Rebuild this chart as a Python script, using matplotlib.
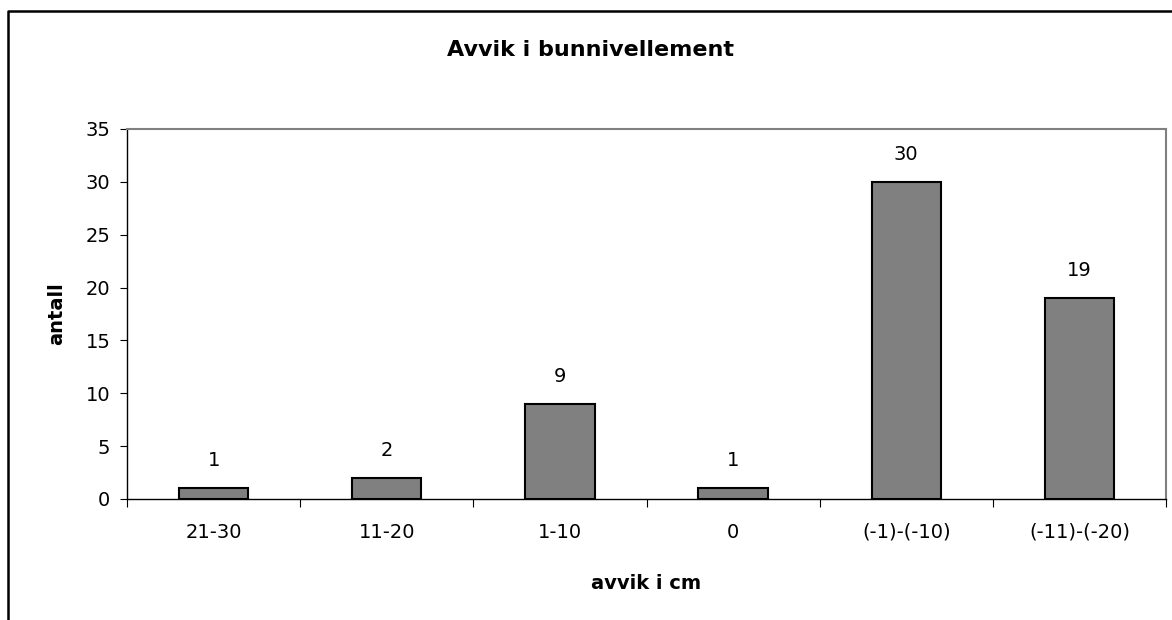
import numpy as np
import matplotlib.pyplot as plt
from matplotlib.lines import Line2D

plt.rcParams['font.family'] = ['DejaVu Sans']

categories = ['21-30', '11-20', '1-10', '0', '(-1)-(-10)', '(-11)-(-20)']
counts = [1, 2, 9, 1, 30, 19]

fig = plt.figure(figsize=(11.72, 6.2), dpi=100)
ax = fig.add_axes([127/1172, 1 - 499/620, (1166-127)/1172, (499-129)/620])

x = np.arange(len(categories))
ax.bar(x, counts, width=0.4, color='#808080', edgecolor='black', linewidth=1.5)
for xi, v in zip(x, counts):
    ax.annotate(str(v), (xi, v), xytext=(0, 13), textcoords='offset points',
                ha='center', va='bottom', fontsize=14)

ax.set_xlim(-0.5, len(categories) - 0.5)
ax.set_ylim(0, 35)
ax.set_yticks(range(0, 36, 5))
ax.tick_params(axis='y', labelsize=14, length=5, direction='out', pad=7)
ax.set_xticks(np.arange(-0.5, len(categories), 1.0))
ax.set_xticklabels([])
ax.set_xticks(x, minor=True)
ax.set_xticklabels(categories, minor=True)
ax.tick_params(axis='x', which='minor', length=0, labelsize=14, pad=17)
ax.tick_params(axis='x', which='major', length=6, direction='out')

for s in ['top', 'right']:
    ax.spines[s].set_color('#808080')
    ax.spines[s].set_linewidth(1.5)
for s in ['left', 'bottom']:
    ax.spines[s].set_linewidth(1.0)

ax.set_ylabel('antall', fontsize=14, fontweight='bold', labelpad=14)
ax.set_xlabel('avvik i cm', fontsize=14, fontweight='bold', labelpad=23)
fig.text(590/1172, 1 - 50/620, 'Avvik i bunnivellement', ha='center', va='center',
         fontsize=16, fontweight='bold')

# outer chart frame (top and left visible)
fig.add_artist(Line2D([8/1172, 8/1172, 1.0], [0.0, 1 - 11/620, 1 - 11/620],
                      color='black', linewidth=1.8, transform=fig.transFigure))

fig.savefig('out.png', dpi=100)
